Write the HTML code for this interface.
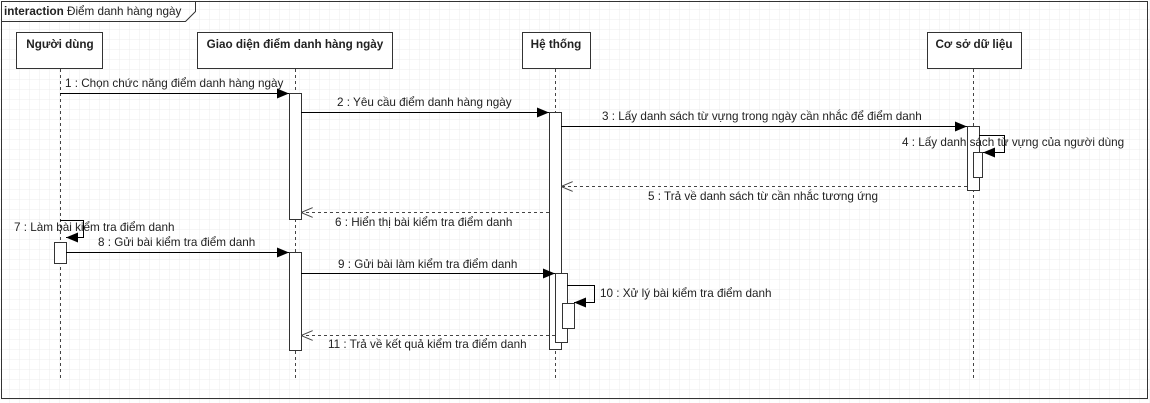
<!DOCTYPE html>
<html><head><meta charset="utf-8"><style>
html,body{margin:0;padding:0;background:#fff}
svg{display:block}
text{font-family:"Liberation Sans",sans-serif;font-size:11.7px;fill:#222}
</style></head><body>
<svg width="1150" height="403" viewBox="0 0 1150 403" xmlns="http://www.w3.org/2000/svg">
<defs>
<pattern id="g" width="10" height="10" patternUnits="userSpaceOnUse" x="0" y="0">
<path d="M10 0V10H0" fill="none" stroke="#ececec" stroke-width="1"/>
</pattern>
<marker id="fa" viewBox="0 0 12 10" refX="12" refY="5" markerWidth="12" markerHeight="10" orient="auto" markerUnits="userSpaceOnUse"><path d="M0 0L12 5L0 10z" fill="#000"/></marker>
<marker id="oa" viewBox="0 0 12 10" refX="12" refY="5" markerWidth="12" markerHeight="10" orient="auto" markerUnits="userSpaceOnUse"><path d="M0 0L12 5L0 10" fill="none" stroke="#444"/></marker>
</defs>
<rect width="1150" height="403" fill="url(#g)"/>
<rect x="1.5" y="1.5" width="1146" height="397" fill="none" stroke="#333"/>
<path d="M1.5 21.5H185.5L195.5 11.5V1.5" fill="none" stroke="#333"/>
<text x="4" y="15"><tspan font-weight="bold">interaction</tspan> Điểm danh hàng ngày</text>

<g fill="#fff" stroke="#333">
<rect x="16.5" y="32.5" width="86" height="36"/>
<rect x="197.5" y="32.5" width="195" height="36"/>
<rect x="522.5" y="32.5" width="68" height="36"/>
<rect x="927.5" y="32.5" width="94" height="36"/>
</g>
<g text-anchor="middle">
<text x="60" y="48" font-weight="bold">Người dùng</text>
<text x="295" y="48" font-weight="bold">Giao diện điểm danh hàng ngày</text>
<text x="556" y="48" font-weight="bold">Hệ thống</text>
<text x="974" y="48" font-weight="bold">Cơ sở dữ liệu</text>
</g>
<g stroke="#444" stroke-dasharray="3,3">
<line x1="60.5" y1="69" x2="60.5" y2="380"/>
<line x1="295.5" y1="69" x2="295.5" y2="380"/>
<line x1="555.5" y1="69" x2="555.5" y2="380"/>
<line x1="973.5" y1="69" x2="973.5" y2="380"/>
</g>

<g fill="#fff" stroke="#333">
<rect x="289.5" y="93.5" width="12" height="126"/>
<rect x="549.5" y="112.5" width="12" height="237"/>
<rect x="967.5" y="126.5" width="12" height="64"/>
<rect x="973.5" y="152.5" width="9" height="25"/>
<rect x="54.5" y="242.5" width="12" height="21"/>
<rect x="289.5" y="252.5" width="12" height="98"/>
<rect x="555.5" y="273.5" width="12" height="69"/>
<rect x="562.5" y="303.5" width="12" height="25"/>
</g>

<g stroke="#000" fill="none">
<line x1="60" y1="93.5" x2="289" y2="93.5" marker-end="url(#fa)"/>
<line x1="301" y1="112.5" x2="549" y2="112.5" marker-end="url(#fa)"/>
<line x1="561" y1="126.5" x2="967" y2="126.5" marker-end="url(#fa)"/>
<path d="M979 135.5H1004.5V152.5H983" marker-end="url(#fa)"/>
<line x1="967" y1="186.5" x2="561" y2="186.5" stroke="#444" stroke-dasharray="3,3" marker-end="url(#oa)"/>
<line x1="549" y1="212.5" x2="301" y2="212.5" stroke="#444" stroke-dasharray="3,3" marker-end="url(#oa)"/>
<path d="M60 220.5H83.5V237.5H66" marker-end="url(#fa)"/>
<line x1="66" y1="252.5" x2="289" y2="252.5" marker-end="url(#fa)"/>
<line x1="301" y1="273.5" x2="555" y2="273.5" marker-end="url(#fa)"/>
<path d="M567 285.5H594.5V302.5H574" marker-end="url(#fa)"/>
<line x1="555" y1="335.5" x2="301" y2="335.5" stroke="#444" stroke-dasharray="3,3" marker-end="url(#oa)"/>
</g>

<text x="65" y="87">1 : Chọn chức năng điểm danh hàng ngày</text>
<text x="337" y="106">2 : Yêu cầu điểm danh hàng ngày</text>
<text x="602" y="120">3 : Lấy danh sách từ vựng trong ngày cần nhắc để điểm danh</text>
<text x="902" y="146">4 : Lấy danh sách từ vựng của người dùng</text>
<text x="648" y="200">5 : Trả về danh sách từ cần nhắc tương ứng</text>
<text x="335" y="226">6 : Hiển thị bài kiểm tra điểm danh</text>
<text x="14" y="231">7 : Làm bài kiểm tra điểm danh</text>
<text x="98" y="246">8 : Gửi bài kiểm tra điểm danh</text>
<text x="338" y="268">9 : Gửi bài làm kiểm tra điểm danh</text>
<text x="600" y="297">10 : Xử lý bài kiểm tra điểm danh</text>
<text x="328" y="348">11 : Trả về kết quả kiểm tra điểm danh</text>
</svg>
</body></html>
